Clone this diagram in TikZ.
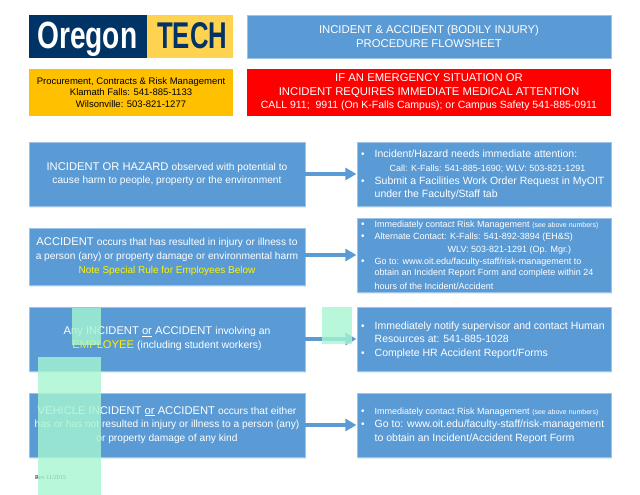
\documentclass[tikz,border=0pt]{standalone}
\usepackage{fontspec}
\setmainfont{Liberation Sans}
\newfontfamily\revfont{Liberation Serif}
\usepackage{xcolor}
\usetikzlibrary{arrows.meta, shadows}
\definecolor{boxblue}{HTML}{5B9BD5}
\definecolor{boxedge}{HTML}{9DC3E6}
\definecolor{logonavy}{HTML}{003366}
\definecolor{logogold}{HTML}{FFD24F}
\definecolor{infoorange}{HTML}{FFC000}
\definecolor{notemint}{HTML}{A7F5D1}
\newcommand{\fs}[1]{\fontsize{#1}{13.7}\selectfont\lineskiplimit=-100pt\relax}
\newcommand{\bul}{\llap{\fs{10}\textbullet\hspace{10pt}}}
\tikzset{
    bluebox/.style={draw=boxedge, line width=0.6pt, fill=boxblue, text=white, align=center, inner sep=0pt,
        drop shadow={shadow xshift=0.5pt, shadow yshift=-1.5pt, fill=boxedge, opacity=0.3}},
    leftbox/.style={bluebox, minimum width=276, minimum height=#1, execute at begin node=\rule{0pt}{13.5pt}},
    rightbox/.style={bluebox, minimum width=254, minimum height=#1},
    listtext/.style={text=white, align=left, inner sep=0pt, anchor=west},
    flowarrow/.style={draw=boxblue, line width=3.5pt, -{Triangle[length=11pt,width=12pt]}, shorten >=0.3pt},
    mint/.style={fill=notemint, opacity=0.8}
}
\begin{document}
\begin{tikzpicture}[x=1pt,y=-1pt]
    \useasboundingbox (0,0) rectangle (640,495);

    \node[fill=logonavy, minimum width=118, minimum height=43, inner sep=0pt] (LogoLeft) at (88,36.5) {};
    \node[fill=logogold, minimum width=86, minimum height=43, inner sep=0pt] (LogoRight) at (190,36.5) {};
    \node[anchor=base west, inner sep=0pt, text=white] (LogoOregon) at (37,49) {\resizebox{100pt}{26.5pt}{\bfseries Oregon}};
    \node[anchor=base west, inner sep=0pt, text=logonavy] (LogoTech) at (157,49) {\resizebox{70pt}{26pt}{\bfseries TECH}};

    \node[bluebox, minimum width=364, minimum height=43] (Title) at (429,36.5) {\fs{11.3}INCIDENT \& ACCIDENT (BODILY INJURY)\\[1.7pt]\fs{11.3}PROCEDURE FLOWSHEET};
    \node[fill=infoorange, align=center, inner sep=0pt, minimum width=204, minimum height=47] (Office) at (131,92.5) {\fs{9.5}Procurement, Contracts \& Risk Management\\[-0.3pt]\fs{9.5}Klamath Falls: 541-885-1133\\[-0.3pt]\fs{9.5}Wilsonville: 503-821-1277};
    \node[fill=red, text=white, align=center, inner sep=0pt, minimum width=364, minimum height=47] (Emergency) at (429,92.5) {\fs{11.3}IF AN EMERGENCY SITUATION OR\\[1.5pt]\fs{11.3}INCIDENT REQUIRES IMMEDIATE MEDICAL ATTENTION\\[1.5pt]\fs{10.5}CALL 911;\ \ 9911 (On K-Falls Campus); or Campus Safety 541-885-0911};

    \node[leftbox=64] (Box1) at (167,174) {\fs{11.2}INCIDENT OR HAZARD \fs{10.2}observed with potential to\\[1.7pt]\fs{10.2}cause harm to people, property or the environment};
    \node[leftbox=57] (Box2) at (167,256.5) {\fs{11.2}ACCIDENT \fs{10.2}occurs that has resulted in injury or illness to\\[1.7pt]\fs{10.2}a person (any) or property damage or environmental harm\\[1.7pt]\fs{10}\textcolor{yellow}{Note Special Rule for Employees Below}};
    \node[leftbox=64] (Box3) at (167,339) {\fs{11.2}Any INCIDENT \underline{or} ACCIDENT \fs{10.4}involving an\\[1.7pt]\fs{11.2}\textcolor{yellow}{EMPLOYEE} \fs{10.4}(including student workers)};
    \node[leftbox=64] (Box4) at (167,425) {\fs{11.2}VEHICLE INCIDENT \underline{or} ACCIDENT \fs{10.2}occurs that either\\[1.7pt]\fs{10.2}has or has not resulted in injury or illness to a person (any)\\[1.7pt]\fs{10.2}or property damage of any kind};

    \node[rightbox=64] (Right1) at (484,174) {};
    \node[rightbox=74] (Right2) at (484,255) {};
    \node[rightbox=64] (Right3) at (484,339) {};
    \node[rightbox=64] (Right4) at (484,425) {};

    \node[listtext] (Text1) at (374.5,174.7) {\bul\fs{10.5}Incident/Hazard needs immediate attention:\\[2pt]\hspace{15pt}\fs{9}Call: K-Falls: 541-885-1690; WLV: 503-821-1291\\[1pt]\bul\fs{10.5}Submit a Facilities Work Order Request in MyOIT\\[1.7pt]\fs{10.5}under the Faculty/Staff tab};
    \node[listtext] (Text2) at (374.5,255) {\bul\fs{9}Immediately contact Risk Management \fs{7}(see above numbers)\\[-0.3pt]\bul\fs{9}Alternate Contact: K-Falls: 541-892-3894 (EH\&S)\\[1.3pt]\hspace{73pt}\fs{9}WLV: 503-821-1291 (Op. Mgr.)\\[0pt]\bul\fs{9}Go to: www.oit.edu/faculty-staff/risk-management to\\[-0.7pt]\fs{9}obtain an Incident Report Form and complete within 24\\[1.4pt]\fs{9}hours of the Incident/Accident};
    \node[listtext] (Text3) at (374.5,340) {\bul\fs{10.5}Immediately notify supervisor and contact Human\\[1.7pt]\fs{10.5}Resources at: 541-885-1028\\[1.7pt]\bul\fs{10.5}Complete HR Accident Report/Forms};
    \node[listtext] (Text4) at (374.5,426) {\bul\fs{9}Immediately contact Risk Management \fs{7}(see above numbers)\\[1.3pt]\bul\fs{10.5}Go to: www.oit.edu/faculty-staff/risk-management\\[1.7pt]\fs{10.5}to obtain an Incident/Accident Report Form};

    \draw[flowarrow] (Box1) -- (Right1);
    \draw[flowarrow] (Box2.east |- Right2) -- (Right2);
    \draw[flowarrow] (Box3) -- (Right3);
    \draw[flowarrow] (Box4) -- (Right4);

    \node[anchor=west, inner sep=0pt, font=\revfont\fontsize{6}{7}\selectfont] (Revision) at (35,478) {Rev 11/2015};

    \fill[mint] (72,308) rectangle (101,345);
    \fill[mint] (38,357) rectangle (101,495);
    \fill[mint] (322,307) rectangle (352,344);
\end{tikzpicture}
\end{document}
